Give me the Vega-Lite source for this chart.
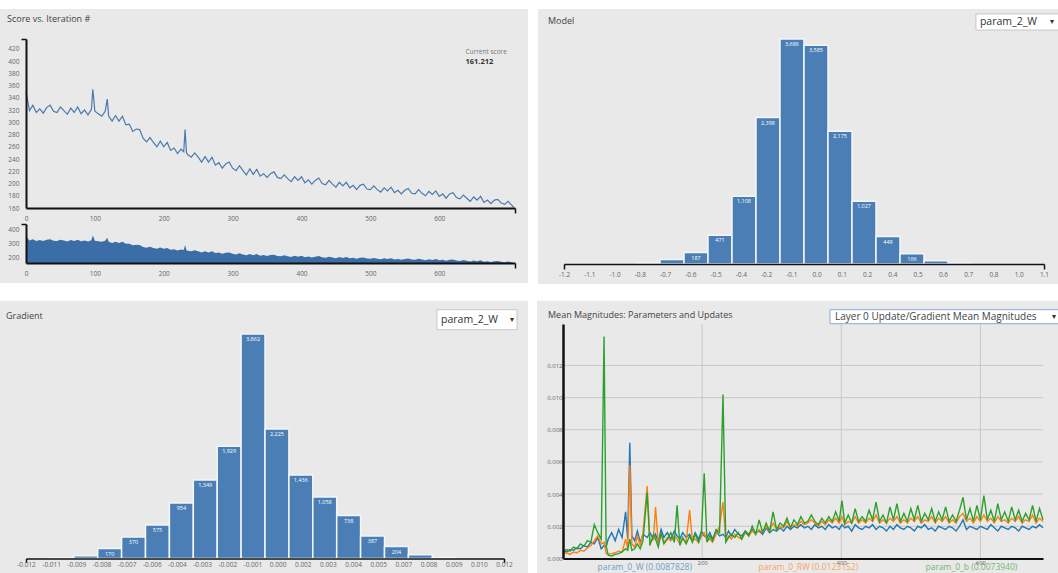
{
  "$schema": "https://vega.github.io/schema/vega-lite/v6.json",
  "background": "white",
  "padding": {"left": 0, "top": 8, "right": 0, "bottom": 0},
  "spacing": 16,
  "resolve": {"scale": {"color": "independent"}, "legend": {"color": "independent"}},
  "config": {
    "view": {"stroke": null},
    "font": "Open Sans",
    "axis": {"labelFont": "Open Sans", "labelFontSize": 6.5, "labelColor": "#666", "domainColor": "#111", "domainWidth": 1.5, "ticks": false, "grid": false, "title": null, "labelPadding": 2, "labelFlush": false, "zindex": 1},
    "title": {"font": "Open Sans", "fontSize": 9, "fontWeight": "normal", "color": "#444", "anchor": "start", "frame": "group", "baseline": "middle"},
    "text": {"font": "Open Sans"}
  },
  "datasets": {
    "panel": [{"panel": "background"}],
    "magGridY": [{"v": 0.002}, {"v": 0.004}, {"v": 0.006}, {"v": 0.008}, {"v": 0.01}, {"v": 0.012}],
    "magGridX": [{"it": 200}, {"it": 400}, {"it": 600}],
    "score": [
      {"iteration":0,"score":350},{"iteration":5,"score":319},{"iteration":10,"score":328},{"iteration":15,"score":316},{"iteration":20,"score":322},{"iteration":25,"score":315},{"iteration":30,"score":324},{"iteration":35,"score":328},{"iteration":40,"score":318},{"iteration":45,"score":316},{"iteration":50,"score":325},{"iteration":55,"score":319},{"iteration":60,"score":313},{"iteration":65,"score":323},{"iteration":70,"score":316},{"iteration":75,"score":325},{"iteration":80,"score":314},{"iteration":85,"score":320},{"iteration":90,"score":312},{"iteration":95,"score":321},{"iteration":97,"score":354},{"iteration":100,"score":318},{"iteration":105,"score":314},{"iteration":110,"score":310},{"iteration":115,"score":318},{"iteration":118,"score":338},{"iteration":120,"score":310},{"iteration":125,"score":302},{"iteration":130,"score":311},{"iteration":135,"score":302},{"iteration":140,"score":310},{"iteration":145,"score":296},{"iteration":150,"score":297},{"iteration":155,"score":285},{"iteration":160,"score":289},{"iteration":165,"score":288},{"iteration":170,"score":274},{"iteration":175,"score":268},{"iteration":180,"score":275},{"iteration":185,"score":267},{"iteration":190,"score":260},{"iteration":195,"score":269},{"iteration":200,"score":260},{"iteration":205,"score":267},{"iteration":210,"score":254},{"iteration":215,"score":258},{"iteration":220,"score":249},{"iteration":225,"score":256},{"iteration":229,"score":252},{"iteration":231,"score":288},{"iteration":233,"score":250},{"iteration":235,"score":247},{"iteration":240,"score":243},{"iteration":245,"score":250},{"iteration":250,"score":243},{"iteration":255,"score":235},{"iteration":260,"score":244},{"iteration":265,"score":235},{"iteration":270,"score":243},{"iteration":275,"score":230},{"iteration":280,"score":234},{"iteration":285,"score":225},{"iteration":290,"score":232},{"iteration":295,"score":235},{"iteration":300,"score":225},{"iteration":305,"score":221},{"iteration":310,"score":229},{"iteration":315,"score":221},{"iteration":320,"score":214},{"iteration":325,"score":224},{"iteration":330,"score":215},{"iteration":335,"score":223},{"iteration":340,"score":212},{"iteration":345,"score":216},{"iteration":350,"score":210},{"iteration":355,"score":216},{"iteration":360,"score":219},{"iteration":365,"score":210},{"iteration":370,"score":208},{"iteration":375,"score":214},{"iteration":380,"score":208},{"iteration":385,"score":203},{"iteration":390,"score":211},{"iteration":395,"score":205},{"iteration":400,"score":211},{"iteration":405,"score":201},{"iteration":410,"score":206},{"iteration":415,"score":199},{"iteration":420,"score":205},{"iteration":425,"score":209},{"iteration":430,"score":200},{"iteration":435,"score":198},{"iteration":440,"score":205},{"iteration":445,"score":199},{"iteration":450,"score":194},{"iteration":455,"score":202},{"iteration":460,"score":196},{"iteration":465,"score":202},{"iteration":470,"score":193},{"iteration":475,"score":197},{"iteration":480,"score":190},{"iteration":485,"score":197},{"iteration":490,"score":199},{"iteration":495,"score":191},{"iteration":500,"score":190},{"iteration":505,"score":196},{"iteration":510,"score":190},{"iteration":515,"score":186},{"iteration":520,"score":193},{"iteration":525,"score":188},{"iteration":530,"score":194},{"iteration":535,"score":185},{"iteration":540,"score":189},{"iteration":545,"score":183},{"iteration":550,"score":189},{"iteration":555,"score":192},{"iteration":560,"score":184},{"iteration":565,"score":183},{"iteration":570,"score":190},{"iteration":575,"score":184},{"iteration":580,"score":180},{"iteration":585,"score":187},{"iteration":590,"score":182},{"iteration":595,"score":188},{"iteration":600,"score":179},{"iteration":605,"score":183},{"iteration":610,"score":176},{"iteration":615,"score":183},{"iteration":620,"score":185},{"iteration":625,"score":177},{"iteration":630,"score":175},{"iteration":635,"score":181},{"iteration":640,"score":176},{"iteration":645,"score":171},{"iteration":650,"score":178},{"iteration":655,"score":173},{"iteration":660,"score":179},{"iteration":665,"score":169},{"iteration":670,"score":173},{"iteration":675,"score":167},{"iteration":680,"score":173},{"iteration":685,"score":174},{"iteration":690,"score":168},{"iteration":695,"score":166},{"iteration":700,"score":171},{"iteration":704,"score":166},{"iteration":708,"score":161.212}
    ],
    "current": [{"label": "Current score", "score": "161.212"}],
    "model": [
      {"bin_start":-1.2,"bin_end":-1.085,"bin_mid":-1.1425,"count":0},
      {"bin_start":-1.085,"bin_end":-0.97,"bin_mid":-1.0275,"count":0},
      {"bin_start":-0.97,"bin_end":-0.855,"bin_mid":-0.9125,"count":0},
      {"bin_start":-0.855,"bin_end":-0.74,"bin_mid":-0.7975,"count":15},
      {"bin_start":-0.74,"bin_end":-0.625,"bin_mid":-0.6825,"count":72},
      {"bin_start":-0.625,"bin_end":-0.51,"bin_mid":-0.5675,"count":187},
      {"bin_start":-0.51,"bin_end":-0.395,"bin_mid":-0.4525,"count":471},
      {"bin_start":-0.395,"bin_end":-0.28,"bin_mid":-0.3375,"count":1108},
      {"bin_start":-0.28,"bin_end":-0.165,"bin_mid":-0.2225,"count":2398},
      {"bin_start":-0.165,"bin_end":-0.05,"bin_mid":-0.1075,"count":3686},
      {"bin_start":-0.05,"bin_end":0.065,"bin_mid":0.0075,"count":3585},
      {"bin_start":0.065,"bin_end":0.18,"bin_mid":0.1225,"count":2175},
      {"bin_start":0.18,"bin_end":0.295,"bin_mid":0.2375,"count":1027},
      {"bin_start":0.295,"bin_end":0.41,"bin_mid":0.3525,"count":449},
      {"bin_start":0.41,"bin_end":0.525,"bin_mid":0.4675,"count":166},
      {"bin_start":0.525,"bin_end":0.64,"bin_mid":0.5825,"count":55},
      {"bin_start":0.64,"bin_end":0.755,"bin_mid":0.6975,"count":12},
      {"bin_start":0.755,"bin_end":0.87,"bin_mid":0.8125,"count":0},
      {"bin_start":0.87,"bin_end":0.985,"bin_mid":0.9275,"count":0},
      {"bin_start":0.985,"bin_end":1.1,"bin_mid":1.0425,"count":0}
    ],
    "gradient": [
      {"bin_start":-0.012,"bin_end":-0.0108,"bin_mid":-0.0114,"count":0},
      {"bin_start":-0.0108,"bin_end":-0.0096,"bin_mid":-0.0102,"count":8},
      {"bin_start":-0.0096,"bin_end":-0.0084,"bin_mid":-0.009,"count":46},
      {"bin_start":-0.0084,"bin_end":-0.0072,"bin_mid":-0.0078,"count":170},
      {"bin_start":-0.0072,"bin_end":-0.006,"bin_mid":-0.0066,"count":370},
      {"bin_start":-0.006,"bin_end":-0.0048,"bin_mid":-0.0054,"count":575},
      {"bin_start":-0.0048,"bin_end":-0.0036,"bin_mid":-0.0042,"count":954},
      {"bin_start":-0.0036,"bin_end":-0.0024,"bin_mid":-0.003,"count":1349},
      {"bin_start":-0.0024,"bin_end":-0.0012,"bin_mid":-0.0018,"count":1929},
      {"bin_start":-0.0012,"bin_end":0,"bin_mid":-0.0006,"count":3862},
      {"bin_start":0,"bin_end":0.0012,"bin_mid":0.0006,"count":2225},
      {"bin_start":0.0012,"bin_end":0.0024,"bin_mid":0.0018,"count":1436},
      {"bin_start":0.0024,"bin_end":0.0036,"bin_mid":0.003,"count":1058},
      {"bin_start":0.0036,"bin_end":0.0048,"bin_mid":0.0042,"count":738},
      {"bin_start":0.0048,"bin_end":0.006,"bin_mid":0.0054,"count":387},
      {"bin_start":0.006,"bin_end":0.0072,"bin_mid":0.0066,"count":204},
      {"bin_start":0.0072,"bin_end":0.0084,"bin_mid":0.0078,"count":63},
      {"bin_start":0.0084,"bin_end":0.0096,"bin_mid":0.009,"count":15},
      {"bin_start":0.0096,"bin_end":0.0108,"bin_mid":0.0102,"count":0},
      {"bin_start":0.0108,"bin_end":0.012,"bin_mid":0.0114,"count":0}
    ],
    "selParam": [{"selected": "param_2_W"}],
    "selMag": [{"selected": "Layer 0 Update/Gradient Mean Magnitudes"}],
    "mag": [
      {"i":0,"W":0.00045,"RW":0.0003,"b":0.0004},
      {"i":5,"W":0.0004,"RW":0.00035,"b":0.00055},
      {"i":10,"W":0.00055,"RW":0.00025,"b":0.00045},
      {"i":15,"W":0.0005,"RW":0.0004,"b":0.0007},
      {"i":20,"W":0.00065,"RW":0.00035,"b":0.0006},
      {"i":25,"W":0.0006,"RW":0.0005,"b":0.0009},
      {"i":30,"W":0.0008,"RW":0.00045,"b":0.00075},
      {"i":35,"W":0.0007,"RW":0.00065,"b":0.0011},
      {"i":40,"W":0.001,"RW":0.0008,"b":0.001},
      {"i":45,"W":0.0009,"RW":0.0011,"b":0.0021},
      {"i":50,"W":0.0013,"RW":0.0014,"b":0.0016},
      {"i":55,"W":0.0006,"RW":0.0009,"b":0.0012},
      {"i":59,"W":0.0008,"RW":0.001,"b":0.0138},
      {"i":62,"W":0.0007,"RW":0.0003,"b":0.0008},
      {"i":65,"W":0.0012,"RW":0.00025,"b":0.0002},
      {"i":70,"W":0.0016,"RW":0.0003,"b":0.00015},
      {"i":75,"W":0.0011,"RW":0.00035,"b":0.00025},
      {"i":80,"W":0.0018,"RW":0.00045,"b":0.0003},
      {"i":85,"W":0.0013,"RW":0.0004,"b":0.0004},
      {"i":90,"W":0.0029,"RW":0.0012,"b":0.0006},
      {"i":93,"W":0.0012,"RW":0.0006,"b":0.0005},
      {"i":96,"W":0.0072,"RW":0.0058,"b":0.0012},
      {"i":99,"W":0.0014,"RW":0.0009,"b":0.0005},
      {"i":103,"W":0.0011,"RW":0.0007,"b":0.0006},
      {"i":107,"W":0.0017,"RW":0.0014,"b":0.0009},
      {"i":111,"W":0.001,"RW":0.0008,"b":0.0006},
      {"i":115,"W":0.0015,"RW":0.0016,"b":0.0011},
      {"i":121,"W":0.0013,"RW":0.0045,"b":0.0041},
      {"i":125,"W":0.0016,"RW":0.001,"b":0.0008},
      {"i":130,"W":0.0012,"RW":0.0012,"b":0.0015},
      {"i":133,"W":0.0015,"RW":0.0032,"b":0.0012},
      {"i":137,"W":0.001,"RW":0.0009,"b":0.0007},
      {"i":141,"W":0.0018,"RW":0.0015,"b":0.0016},
      {"i":145,"W":0.0013,"RW":0.001,"b":0.0009},
      {"i":150,"W":0.0016,"RW":0.0013,"b":0.0012},
      {"i":155,"W":0.0012,"RW":0.0011,"b":0.0016},
      {"i":160,"W":0.0017,"RW":0.0014,"b":0.001},
      {"i":164,"W":0.0014,"RW":0.0012,"b":0.0033},
      {"i":168,"W":0.0012,"RW":0.0009,"b":0.0008},
      {"i":172,"W":0.0016,"RW":0.0012,"b":0.0013},
      {"i":177,"W":0.0013,"RW":0.001,"b":0.0009},
      {"i":182,"W":0.0015,"RW":0.003,"b":0.0014},
      {"i":186,"W":0.0011,"RW":0.0011,"b":0.001},
      {"i":190,"W":0.0016,"RW":0.0012,"b":0.0015},
      {"i":195,"W":0.0012,"RW":0.001,"b":0.001},
      {"i":199,"W":0.0017,"RW":0.0014,"b":0.0016},
      {"i":203,"W":0.0014,"RW":0.0016,"b":0.0053},
      {"i":207,"W":0.0013,"RW":0.0011,"b":0.001},
      {"i":211,"W":0.0016,"RW":0.0012,"b":0.0014},
      {"i":215,"W":0.0012,"RW":0.001,"b":0.0011},
      {"i":220,"W":0.0017,"RW":0.0015,"b":0.0018},
      {"i":225,"W":0.0014,"RW":0.002,"b":0.0016},
      {"i":230,"W":0.0015,"RW":0.0035,"b":0.0102},
      {"i":234,"W":0.0013,"RW":0.0011,"b":0.001},
      {"i":238,"W":0.0017,"RW":0.0014,"b":0.0013},
      {"i":242,"W":0.0014,"RW":0.0012,"b":0.0015},
      {"i":247,"W":0.0018,"RW":0.0015,"b":0.0013},
      {"i":252,"W":0.0015,"RW":0.0013,"b":0.0016},
      {"i":257,"W":0.0014,"RW":0.0012,"b":0.0012},
      {"i":262,"W":0.0017,"RW":0.0016,"b":0.0017},
      {"i":267,"W":0.0015,"RW":0.0014,"b":0.0014},
      {"i":272,"W":0.0018,"RW":0.0017,"b":0.002},
      {"i":277,"W":0.0016,"RW":0.0015,"b":0.0015},
      {"i":282,"W":0.0017,"RW":0.0018,"b":0.0024},
      {"i":287,"W":0.0015,"RW":0.0016,"b":0.0016},
      {"i":292,"W":0.0019,"RW":0.002,"b":0.0022},
      {"i":297,"W":0.0016,"RW":0.0017,"b":0.0017},
      {"i":302,"W":0.0018,"RW":0.0022,"b":0.0029},
      {"i":307,"W":0.0017,"RW":0.0018,"b":0.0018},
      {"i":312,"W":0.0019,"RW":0.002,"b":0.0022},
      {"i":317,"W":0.0017,"RW":0.0019,"b":0.002},
      {"i":322,"W":0.002,"RW":0.0023,"b":0.0025},
      {"i":327,"W":0.0018,"RW":0.0019,"b":0.0019},
      {"i":332,"W":0.002,"RW":0.0021,"b":0.0024},
      {"i":337,"W":0.0019,"RW":0.002,"b":0.0021},
      {"i":342,"W":0.0021,"RW":0.0023,"b":0.0026},
      {"i":347,"W":0.0019,"RW":0.0021,"b":0.0022},
      {"i":352,"W":0.002,"RW":0.0022,"b":0.0023},
      {"i":357,"W":0.0018,"RW":0.0024,"b":0.0027},
      {"i":362,"W":0.0021,"RW":0.0022,"b":0.0023},
      {"i":367,"W":0.0019,"RW":0.002,"b":0.0021},
      {"i":372,"W":0.002,"RW":0.0023,"b":0.0025},
      {"i":377,"W":0.0018,"RW":0.0021,"b":0.0022},
      {"i":382,"W":0.0021,"RW":0.0024,"b":0.0026},
      {"i":387,"W":0.0019,"RW":0.0022,"b":0.0023},
      {"i":392,"W":0.002,"RW":0.0025,"b":0.0029},
      {"i":397,"W":0.0018,"RW":0.0022,"b":0.0023},
      {"i":401,"W":0.0021,"RW":0.0026,"b":0.0036},
      {"i":405,"W":0.0019,"RW":0.0021,"b":0.0022},
      {"i":410,"W":0.002,"RW":0.0023,"b":0.0027},
      {"i":415,"W":0.0017,"RW":0.0022,"b":0.0022},
      {"i":420,"W":0.0021,"RW":0.0026,"b":0.0031},
      {"i":425,"W":0.0019,"RW":0.0022,"b":0.0023},
      {"i":430,"W":0.0018,"RW":0.0024,"b":0.0026},
      {"i":435,"W":0.002,"RW":0.0022,"b":0.0023},
      {"i":440,"W":0.0019,"RW":0.0025,"b":0.003},
      {"i":445,"W":0.0021,"RW":0.0023,"b":0.0024},
      {"i":450,"W":0.0018,"RW":0.0027,"b":0.0035},
      {"i":455,"W":0.002,"RW":0.0022,"b":0.0023},
      {"i":460,"W":0.0019,"RW":0.0024,"b":0.0027},
      {"i":465,"W":0.0017,"RW":0.0022,"b":0.0022},
      {"i":470,"W":0.002,"RW":0.0025,"b":0.0032},
      {"i":475,"W":0.0018,"RW":0.0023,"b":0.0024},
      {"i":480,"W":0.0021,"RW":0.0026,"b":0.0034},
      {"i":485,"W":0.0019,"RW":0.0022,"b":0.0023},
      {"i":490,"W":0.0018,"RW":0.0024,"b":0.0028},
      {"i":495,"W":0.002,"RW":0.0022,"b":0.0023},
      {"i":500,"W":0.0019,"RW":0.0025,"b":0.0031},
      {"i":505,"W":0.0017,"RW":0.0023,"b":0.0024},
      {"i":510,"W":0.002,"RW":0.0026,"b":0.0033},
      {"i":515,"W":0.0019,"RW":0.0022,"b":0.0023},
      {"i":520,"W":0.0021,"RW":0.0024,"b":0.0028},
      {"i":525,"W":0.0018,"RW":0.0023,"b":0.0024},
      {"i":530,"W":0.0019,"RW":0.0026,"b":0.0031},
      {"i":535,"W":0.0017,"RW":0.0022,"b":0.0023},
      {"i":540,"W":0.002,"RW":0.0025,"b":0.0029},
      {"i":545,"W":0.0019,"RW":0.0023,"b":0.0024},
      {"i":550,"W":0.0018,"RW":0.0026,"b":0.0032},
      {"i":555,"W":0.002,"RW":0.0022,"b":0.0023},
      {"i":560,"W":0.0019,"RW":0.0024,"b":0.0027},
      {"i":565,"W":0.0017,"RW":0.0022,"b":0.0023},
      {"i":570,"W":0.002,"RW":0.0026,"b":0.003},
      {"i":575,"W":0.0024,"RW":0.0028,"b":0.0038},
      {"i":580,"W":0.0018,"RW":0.0023,"b":0.0024},
      {"i":585,"W":0.002,"RW":0.0025,"b":0.0031},
      {"i":590,"W":0.0019,"RW":0.0022,"b":0.0023},
      {"i":595,"W":0.0018,"RW":0.0026,"b":0.0033},
      {"i":600,"W":0.002,"RW":0.0023,"b":0.0024},
      {"i":605,"W":0.0019,"RW":0.0027,"b":0.0039},
      {"i":610,"W":0.0018,"RW":0.0023,"b":0.0024},
      {"i":615,"W":0.0021,"RW":0.0025,"b":0.003},
      {"i":620,"W":0.0019,"RW":0.0022,"b":0.0023},
      {"i":625,"W":0.0017,"RW":0.0026,"b":0.0034},
      {"i":630,"W":0.002,"RW":0.0023,"b":0.0024},
      {"i":635,"W":0.0019,"RW":0.0024,"b":0.0029},
      {"i":640,"W":0.0018,"RW":0.0022,"b":0.0023},
      {"i":645,"W":0.002,"RW":0.0025,"b":0.0032},
      {"i":650,"W":0.0019,"RW":0.0023,"b":0.0024},
      {"i":655,"W":0.0017,"RW":0.0026,"b":0.003},
      {"i":660,"W":0.002,"RW":0.0022,"b":0.0023},
      {"i":665,"W":0.0019,"RW":0.0024,"b":0.0028},
      {"i":670,"W":0.0018,"RW":0.0023,"b":0.0024},
      {"i":675,"W":0.002,"RW":0.0027,"b":0.0033},
      {"i":680,"W":0.0019,"RW":0.0022,"b":0.0023},
      {"i":685,"W":0.0021,"RW":0.0025,"b":0.0031},
      {"i":690,"W":0.0019,"RW":0.0023,"b":0.0024}
    ]
  },
  "vconcat": [
    {
      "spacing": 9,
      "hconcat": [
        {
          "title": {"text": "Score vs. Iteration #", "dx": -19, "offset": -15.4},
          "spacing": -3,
          "vconcat": [
            {
              "width": 489,
              "height": 169,
              "layer": [
                {
                  "data": {"name": "panel"},
                  "mark": {"type": "rect", "fill": "#e9e9e9"},
                  "encoding": {"x": {"datum": -37.75}, "x2": {"datum": 728.88}, "y": {"datum": 485}, "y2": {"datum": 133.87}}
                },
                {
                  "data": {"name": "score"},
                  "mark": {"type": "line", "color": "#4a79b0", "strokeWidth": 1.2},
                  "encoding": {
                    "x": {"field": "iteration", "type": "quantitative", "scale": {"domain": [0, 710], "nice": false, "zero": false},
                      "axis": {"zindex": 1, "values": [0, 100, 200, 300, 400, 500, 600, 710], "tickCount": 100, "domainWidth": 2, "ticks": true, "tickSize": 5, "tickWidth": 1.5, "labelOverlap": false,
                        "tickColor": {"condition": {"test": "datum.value > 700", "value": "#111"}, "value": "rgba(0,0,0,0)"},
                        "labelExpr": "datum.value > 700 ? '' : datum.label"}},
                    "y": {"field": "score", "type": "quantitative", "scale": {"domain": [160, 436], "nice": false, "zero": false},
                      "axis": {"zindex": 1, "values": [160, 180, 200, 220, 240, 260, 280, 300, 320, 340, 360, 380, 400, 420, 436], "tickCount": 100, "domainWidth": 2, "ticks": true, "tickSize": 5, "tickWidth": 1.5, "labelOverlap": false,
                        "tickColor": {"condition": {"test": "datum.value > 430", "value": "#111"}, "value": "rgba(0,0,0,0)"},
                        "labelExpr": "datum.value > 430 ? '' : datum.label"}}
                  }
                },
                {
                  "data": {"name": "current"},
                  "mark": {"type": "text", "align": "left", "baseline": "middle", "fontSize": 6.5, "color": "#777"},
                  "encoding": {"x": {"datum": 638}, "y": {"datum": 414.8}, "text": {"field": "label"}}
                },
                {
                  "data": {"name": "current"},
                  "mark": {"type": "text", "align": "left", "baseline": "middle", "fontSize": 7.5, "fontWeight": "bold", "color": "#333"},
                  "encoding": {"x": {"datum": 638}, "y": {"datum": 398.4}, "text": {"field": "score"}}
                }
              ]
            },
            {
              "width": 489,
              "height": 39,
              "layer": [
                {
                  "data": {"name": "panel"},
                  "mark": {"type": "rect", "fill": "#e9e9e9"},
                  "encoding": {"x": {"datum": -37.75}, "x2": {"datum": 728.88}, "y": {"datum": 450.15}, "y2": {"datum": 18.46}}
                },
                {
                  "data": {"name": "score"},
                  "mark": {"type": "area", "color": "#3b6ea6", "opacity": 1},
                  "encoding": {
                    "x": {"field": "iteration", "type": "quantitative", "scale": {"domain": [0, 710], "nice": false, "zero": false},
                      "axis": {"zindex": 1, "values": [0, 100, 200, 300, 400, 500, 600, 710], "tickCount": 100, "domainWidth": 2, "ticks": true, "tickSize": 5, "tickWidth": 1.5, "labelOverlap": false,
                        "tickColor": {"condition": {"test": "datum.value > 700", "value": "#111"}, "value": "rgba(0,0,0,0)"},
                        "labelExpr": "datum.value > 700 ? '' : datum.label"}},
                    "y": {"field": "score", "type": "quantitative", "scale": {"domain": [160, 436], "nice": false, "zero": false},
                      "axis": {"zindex": 1, "values": [200, 300, 400, 436], "tickCount": 100, "domainWidth": 2, "ticks": true, "tickSize": 5, "tickWidth": 1.5, "labelOverlap": false,
                        "tickColor": {"condition": {"test": "datum.value > 430", "value": "#111"}, "value": "rgba(0,0,0,0)"},
                        "labelExpr": "datum.value > 430 ? '' : datum.label"}},
                    "y2": {"datum": 160}
                  }
                }
              ]
            }
          ]
        },
        {
          "width": 480,
          "height": 225,
          "title": {"text": "Model", "dx": -16, "offset": -17.4},
          "layer": [
            {
              "data": {"name": "panel"},
              "mark": {"type": "rect", "fill": "#e9e9e9"},
              "encoding": {"x": {"datum": -1.32458}, "x2": {"datum": 1.18146}, "y": {"datum": 4177.5, "axis": null}, "y2": {"datum": -327.6}}
            },
            {
              "data": {"name": "model"},
              "transform": [{"filter": "datum.count > 0"}],
              "mark": {"type": "rect", "fill": "#4a7eb5", "stroke": "#f3f6fa", "strokeWidth": 1.5},
              "encoding": {
                "x": {"field": "bin_start", "type": "quantitative", "scale": {"domain": [-1.2, 1.1], "nice": false, "zero": false},
                  "axis": {"zindex": 1, "values": [-1.2, -1.0789474, -0.9578947, -0.8368421, -0.7157895, -0.5947368, -0.4736842, -0.3526316, -0.2315789, -0.1105263, 0.0105263, 0.1315789, 0.2526316, 0.3736842, 0.4947368, 0.6157895, 0.7368421, 0.8578947, 0.9789474, 1.1],
                    "tickCount": 100,
                    "labelExpr": "['-1.2','-1.1','-1.0','-0.8','-0.7','-0.6','-0.5','-0.4','-0.2','-0.1','0.0','0.1','0.2','0.4','0.5','0.6','0.7','0.8','1.0','1.1'][round((datum.value + 1.2) * 19 / 2.3)]",
                    "ticks": true, "tickSize": 5, "tickWidth": 1.5, "labelOverlap": false,
                    "tickColor": {"condition": {"test": "datum.value < -1.19 || datum.value > 1.09", "value": "#111"}, "value": "rgba(0,0,0,0)"}}},
                "x2": {"field": "bin_end"},
                "y": {"field": "count", "type": "quantitative", "scale": {"domain": [0, 3686], "nice": false}, "axis": null}
              }
            },
            {
              "data": {"name": "model"},
              "transform": [{"filter": "datum.count >= 100"}],
              "mark": {"type": "text", "color": "white", "fontSize": 5.5, "baseline": "top", "dy": 3},
              "encoding": {
                "x": {"field": "bin_mid", "type": "quantitative"},
                "y": {"field": "count", "type": "quantitative"},
                "text": {"field": "count", "type": "quantitative", "format": ","}
              }
            },
            {
              "data": {"name": "selParam"},
              "mark": {"type": "rect", "fill": "white", "stroke": "#bdbdbd", "strokeWidth": 0.8},
              "encoding": {"x": {"datum": 0.774}, "x2": {"datum": 1.181}, "y": {"datum": 4096}, "y2": {"datum": 3833}}
            },
            {
              "data": {"name": "selParam"},
              "mark": {"type": "text", "align": "left", "baseline": "middle", "fontSize": 10.5, "color": "#333"},
              "encoding": {"x": {"datum": 0.793}, "y": {"datum": 3964}, "text": {"field": "selected"}}
            },
            {
              "data": {"name": "selParam"},
              "mark": {"type": "text", "align": "center", "baseline": "middle", "fontSize": 8, "color": "#333"},
              "encoding": {"x": {"datum": 1.138}, "y": {"datum": 3964}, "text": {"value": "▾"}}
            }
          ]
        }
      ]
    },
    {
      "spacing": 9,
      "resolve": {"scale": {"color": "independent"}, "legend": {"color": "independent"}},
      "hconcat": [
        {
          "width": 478,
          "height": 234.4,
          "title": {"text": "Gradient", "dx": -20, "offset": -20.4},
          "layer": [
            {
              "data": {"name": "panel"},
              "mark": {"type": "rect", "fill": "#e9e9e9"},
              "encoding": {"x": {"datum": -0.013305}, "x2": {"datum": 0.013205}, "y": {"datum": 4435, "axis": null}, "y2": {"datum": -263.3}}
            },
            {
              "data": {"name": "gradient"},
              "transform": [{"filter": "datum.count > 0"}],
              "mark": {"type": "rect", "fill": "#4a7eb5", "stroke": "#f3f6fa", "strokeWidth": 1.5},
              "encoding": {
                "x": {"field": "bin_start", "type": "quantitative", "scale": {"domain": [-0.012, 0.012], "nice": false, "zero": false},
                  "axis": {"zindex": 1, "values": [-0.012, -0.0107368, -0.0094737, -0.0082105, -0.0069474, -0.0056842, -0.0044211, -0.0031579, -0.0018947, -0.0006316, 0.0006316, 0.0018947, 0.0031579, 0.0044211, 0.0056842, 0.0069474, 0.0082105, 0.0094737, 0.0107368, 0.012],
                    "tickCount": 100,
                    "labelExpr": "['-0.012','-0.011','-0.009','-0.008','-0.007','-0.006','-0.004','-0.003','-0.002','-0.001','0.000','0.002','0.003','0.004','0.005','0.007','0.008','0.009','0.010','0.012'][round((datum.value + 0.012) * 19 / 0.024)]",
                    "ticks": true, "tickSize": 4, "tickWidth": 1.5, "labelPadding": -1, "labelOverlap": false,
                    "tickColor": {"condition": {"test": "datum.value < -0.0119 || datum.value > 0.0119", "value": "#111"}, "value": "rgba(0,0,0,0)"}}},
                "x2": {"field": "bin_end"},
                "y": {"field": "count", "type": "quantitative", "scale": {"domain": [0, 4034], "nice": false}, "axis": null}
              }
            },
            {
              "data": {"name": "gradient"},
              "transform": [{"filter": "datum.count >= 100"}],
              "mark": {"type": "text", "color": "white", "fontSize": 5.5, "baseline": "top", "dy": 3},
              "encoding": {
                "x": {"field": "bin_mid", "type": "quantitative"},
                "y": {"field": "count", "type": "quantitative"},
                "text": {"field": "count", "type": "quantitative", "format": ","}
              }
            },
            {
              "data": {"name": "selParam"},
              "mark": {"type": "rect", "fill": "white", "stroke": "#bdbdbd", "strokeWidth": 0.8},
              "encoding": {"x": {"datum": 0.008636}, "x2": {"datum": 0.012652}, "y": {"datum": 4280}, "y2": {"datum": 3936}}
            },
            {
              "data": {"name": "selParam"},
              "mark": {"type": "text", "align": "left", "baseline": "middle", "fontSize": 10.5, "color": "#333"},
              "encoding": {"x": {"datum": 0.008837}, "y": {"datum": 4100}, "text": {"field": "selected"}}
            },
            {
              "data": {"name": "selParam"},
              "mark": {"type": "text", "align": "center", "baseline": "middle", "fontSize": 8, "color": "#333"},
              "encoding": {"x": {"datum": 0.0124}, "y": {"datum": 4100}, "text": {"value": "▾"}}
            }
          ]
        },
        {
          "width": 480,
          "height": 234.4,
          "title": {"text": "Mean Magnitudes: Parameters and Updates", "dx": -15, "offset": -19.4},
          "layer": [
            {
              "data": {"name": "panel"},
              "mark": {"type": "rect", "fill": "#e9e9e9"},
              "encoding": {"x": {"datum": -37.375}, "x2": {"datum": 714.44}, "y": {"datum": 0.016029}, "y2": {"datum": -0.000952}}
            },
            {
              "data": {"name": "magGridY"},
              "mark": {"type": "rule", "color": "#c8c8c8", "strokeWidth": 1},
              "encoding": {"y": {"field": "v", "type": "quantitative"}}
            },
            {
              "data": {"name": "magGridX"},
              "mark": {"type": "rule", "color": "#c8c8c8", "strokeWidth": 1},
              "encoding": {"x": {"field": "it", "type": "quantitative"}}
            },
            {
              "data": {"name": "mag"},
              "transform": [{"fold": ["W", "RW", "b"], "as": ["series", "value"]}],
              "mark": {"type": "line", "strokeWidth": 1.4},
              "encoding": {
                "x": {"field": "i", "type": "quantitative", "scale": {"domain": [0, 690], "nice": false, "zero": false},
                  "axis": {"zindex": 1, "values": [200, 400, 600], "tickCount": 100, "grid": false, "domainWidth": 2, "labelPadding": 1, "labelFontSize": 6, "labelOverlap": false}},
                "y": {"field": "value", "type": "quantitative", "scale": {"domain": [0, 0.01458], "nice": false},
                  "axis": {"zindex": 1, "values": [0, 0.002, 0.004, 0.006, 0.008, 0.01, 0.012], "tickCount": 100, "format": ".3f", "grid": false, "domainWidth": 2.5, "labelPadding": 1, "labelFontSize": 6, "labelOverlap": false}},
                "color": {"field": "series", "type": "nominal",
                  "scale": {"domain": ["W", "RW", "b"], "range": ["#1f77b4", "#ff7f0e", "#2ca02c"]},
                  "legend": {"orient": "none", "legendX": 26, "legendY": 239, "direction": "horizontal", "columns": 3, "title": null, "zindex": 2,
                    "symbolSize": 0, "symbolOpacity": 0, "symbolStrokeWidth": 0, "labelOffset": 0, "padding": 0, "columnPadding": 58,
                    "labelFontSize": 8.5, "labelFont": "Open Sans", "labelBaseline": "middle", "labelLimit": 200,
                    "labelExpr": "datum.value == 'W' ? 'param_0_W (0.0087828)' : datum.value == 'RW' ? 'param_0_RW (0.0123152)' : 'param_0_b (0.0073940)'",
                    "encode": {"labels": {"update": {"fill": {"signal": "datum.value == 'W' ? '#1f77b4' : datum.value == 'RW' ? '#ff7f0e' : '#2ca02c'"}, "opacity": {"value": 0.65}}}}}}
              }
            },
            {
              "data": {"name": "selMag"},
              "mark": {"type": "rect", "fill": "white", "stroke": "#8aa9d6", "strokeWidth": 1},
              "encoding": {"x": {"datum": 383.8}, "x2": {"datum": 717}, "y": {"datum": 0.01547}, "y2": {"datum": 0.0146}}
            },
            {
              "data": {"name": "selMag"},
              "mark": {"type": "text", "align": "left", "baseline": "middle", "fontSize": 10, "color": "#444"},
              "encoding": {"x": {"datum": 391}, "y": {"datum": 0.01504}, "text": {"field": "selected"}}
            },
            {
              "data": {"name": "selMag"},
              "mark": {"type": "text", "align": "center", "baseline": "middle", "fontSize": 8, "color": "#333"},
              "encoding": {"x": {"datum": 705.8}, "y": {"datum": 0.01504}, "text": {"value": "▾"}}
            }
          ]
        }
      ]
    }
  ]
}
